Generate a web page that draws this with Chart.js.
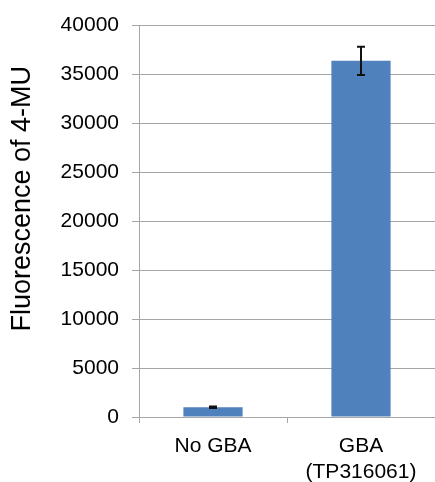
<!DOCTYPE html>
<html lang="en">
<head>
    <meta charset="UTF-8">
    <title>Fluorescence of 4-MU</title>
    <script src="https://cdn.jsdelivr.net/npm/chart.js"></script>
    <style>
        html, body {
            margin: 0;
            padding: 0;
            background: #ffffff;
        }
        .chart-container {
            position: relative;
            width: 435px;
            height: 482px;
        }
    </style>
</head>
<body>
    <div class="chart-container">
        <canvas id="barChart"></canvas>
    </div>

    <script>
        // Data
        const categories = [['No GBA'], ['GBA', '(TP316061)']];
        const fluorescence = [1000, 36400];
        const errors = [80, 1450];
        const yTicks = [0, 5000, 10000, 15000, 20000, 25000, 30000, 35000, 40000];

        const barColor = '#4f81bd';
        const gridColor = '#a6a6a6';
        const fontFamily = 'Arial, "Liberation Sans", sans-serif';

        // Draws +/- error bars on top of the bars
        const errorBarPlugin = {
            id: 'errorBars',
            afterDatasetsDraw(chart) {
                const ctx = chart.ctx;
                const meta = chart.getDatasetMeta(0);
                const yScale = chart.scales.y;
                ctx.save();
                ctx.strokeStyle = '#111111';
                ctx.lineWidth = 2;
                meta.data.forEach((bar, i) => {
                    const x = bar.x;
                    const yTop = yScale.getPixelForValue(fluorescence[i] + errors[i]);
                    const yBot = yScale.getPixelForValue(fluorescence[i] - errors[i]);
                    const cap = 4;
                    ctx.beginPath();
                    ctx.moveTo(x, yTop);
                    ctx.lineTo(x, yBot);
                    ctx.moveTo(x - cap, yTop);
                    ctx.lineTo(x + cap, yTop);
                    ctx.moveTo(x - cap, yBot);
                    ctx.lineTo(x + cap, yBot);
                    ctx.stroke();
                });
                ctx.restore();
            }
        };

        const ctx = document.getElementById('barChart').getContext('2d');
        new Chart(ctx, {
            type: 'bar',
            data: {
                labels: categories,
                datasets: [{
                    label: 'Fluorescence of 4-MU',
                    data: fluorescence,
                    backgroundColor: barColor,
                    borderWidth: 0,
                    barPercentage: 0.4,
                    categoryPercentage: 1.0
                }]
            },
            options: {
                responsive: true,
                maintainAspectRatio: false,
                animation: false,
                layout: {
                    padding: { top: 24, right: 0, bottom: 0, left: 0 }
                },
                plugins: {
                    legend: { display: false },
                    tooltip: { enabled: false }
                },
                scales: {
                    x: {
                        grid: {
                            offset: true,
                            drawOnChartArea: false,
                            drawTicks: true,
                            tickLength: 6,
                            color: gridColor
                        },
                        border: { color: gridColor, width: 1 },
                        ticks: {
                            color: '#000000',
                            padding: 11,
                            maxRotation: 0,
                            font: { family: fontFamily, size: 21 }
                        },
                        afterFit(scale) {
                            scale.height = 65;
                        }
                    },
                    y: {
                        min: 0,
                        max: 40000,
                        afterBuildTicks(scale) {
                            scale.ticks = yTicks.map(v => ({ value: v }));
                        },
                        grid: {
                            color: gridColor,
                            tickLength: 7,
                            drawTicks: true
                        },
                        border: { color: gridColor, width: 1 },
                        ticks: {
                            color: '#000000',
                            padding: 13,
                            font: { family: fontFamily, size: 21 },
                            callback: value => String(value)
                        },
                        title: {
                            display: true,
                            // leading no-break spaces nudge the rotated title up a little
                            text: '\u00a0\u00a0\u00a0\u00a0\u00a0\u00a0Fluorescence of 4-MU',
                            color: '#000000',
                            padding: { top: 6, bottom: 0 },
                            font: { family: fontFamily, size: 27 }
                        },
                        afterFit(scale) {
                            scale.width = 139;
                        }
                    }
                }
            },
            plugins: [errorBarPlugin]
        });
    </script>
</body>
</html>
